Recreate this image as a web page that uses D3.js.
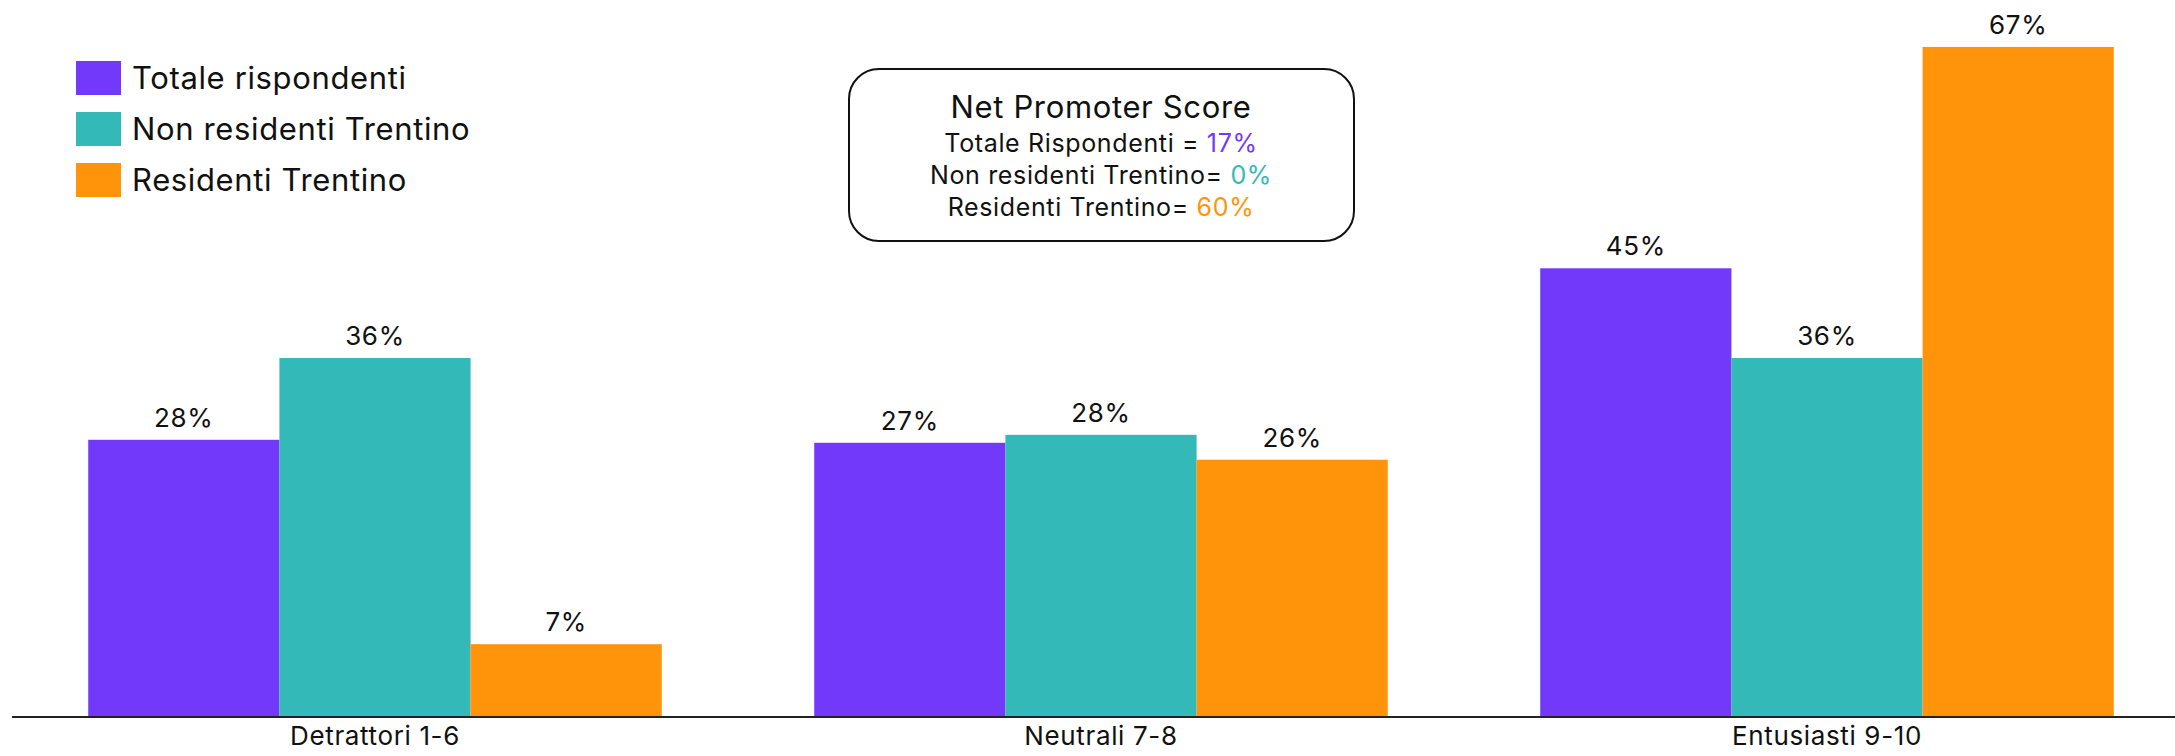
<!DOCTYPE html>
<html>
<head>
<meta charset="utf-8">
<script src="https://cdn.jsdelivr.net/npm/d3@7"></script>
<style>
  body { margin: 0; background: #fff; }
  svg { display: block; font-family: Inter, "Noto Sans", sans-serif; letter-spacing: 0.04em; }
</style>
</head>
<body>
<div id="chart"></div>
<script>
let width = 2175;
let height = 756;

// Data
const categories = ["Detrattori 1-6", "Neutrali 7-8", "Entusiasti 9-10"];
const seriesNames = ["Totale rispondenti", "Non residenti Trentino", "Residenti Trentino"];
const totale = [27.7, 27.4, 44.9];
const nonResidenti = [35.9, 28.2, 35.9];
const residenti = [7.2, 25.7, 67.1];
const seriesColors = ["#7239FB", "#34B9B9", "#FF940A"];

// NPS box
const npsTitle = "Net Promoter Score";
const npsLabels = ["Totale Rispondenti = ", "Non residenti Trentino= ", "Residenti Trentino= "];
const npsValues = ["17%", "0%", "60%"];

const values = [totale, nonResidenti, residenti];

let svg = d3.select("#chart").append("svg")
  .attr("width", width)
  .attr("height", height);

const baseline = 716;

// scales
var x0 = d3.scaleBand()
  .domain(categories)
  .range([12, 2190])
  .paddingInner(0.21)
  .paddingOuter(0.105);

var x1 = d3.scaleBand()
  .domain(seriesNames)
  .range([0, x0.bandwidth()]);

var y = d3.scaleLinear()
  .domain([0, 70])
  .range([baseline, baseline - 698]);

var color = d3.scaleOrdinal()
  .domain(seriesNames)
  .range(seriesColors);

// table for the bars
let rows = [];
categories.forEach(function (c, i) {
  seriesNames.forEach(function (s, j) {
    rows.push({ cat: c, series: s, value: values[j][i] });
  });
});

let bars = svg.append("g");

bars.selectAll("rect")
  .data(rows)
  .enter()
  .append("rect")
  .attr("x", d => x0(d.cat) + x1(d.series))
  .attr("y", d => y(d.value))
  .attr("width", x1.bandwidth())
  .attr("height", d => baseline - y(d.value))
  .attr("fill", d => color(d.series));

bars.selectAll("text")
  .data(rows)
  .enter()
  .append("text")
  .attr("x", d => x0(d.cat) + x1(d.series) + x1.bandwidth() / 2)
  .attr("y", d => y(d.value) - 13)
  .attr("text-anchor", "middle")
  .attr("font-size", 26)
  .attr("fill", "#111")
  .text(d => Math.round(d.value) + "%");

// x axis
let xAxis = svg.append("g")
  .attr("transform", "translate(0," + baseline + ")")
  .call(d3.axisBottom(x0).tickSize(0).tickPadding(11));

xAxis.select(".domain").remove();
xAxis.selectAll("text")
  .attr("font-size", 26)
  .attr("font-family", "Inter, sans-serif")
  .attr("fill", "#111");

svg.append("line")
  .attr("x1", 12)
  .attr("x2", width)
  .attr("y1", baseline + 1)
  .attr("y2", baseline + 1)
  .attr("stroke", "#222")
  .attr("stroke-width", 2);

// legend
let legend = svg.append("g")
  .selectAll("g")
  .data(seriesNames)
  .enter()
  .append("g")
  .attr("transform", (d, i) => "translate(76," + (61 + i * 51) + ")");

legend.append("rect")
  .attr("width", 45)
  .attr("height", 34)
  .attr("fill", d => color(d));

legend.append("text")
  .attr("x", 56)
  .attr("y", 17)
  .attr("dy", "0.36em")
  .attr("font-size", 31)
  .attr("fill", "#111")
  .text(d => d);

// NPS box
let box = svg.append("g");
box.append("rect")
  .attr("x", 849)
  .attr("y", 69)
  .attr("width", 505)
  .attr("height", 172)
  .attr("rx", 30)
  .attr("fill", "#fff")
  .attr("stroke", "#111")
  .attr("stroke-width", 2);

box.append("text")
  .attr("x", 1101)
  .attr("y", 118)
  .attr("text-anchor", "middle")
  .attr("font-size", 31)
  .attr("fill", "#111")
  .text(npsTitle);

npsLabels.forEach(function (lab, i) {
  let t = box.append("text")
    .attr("x", 1101)
    .attr("y", 152 + i * 32)
    .attr("text-anchor", "middle")
    .attr("font-size", 25)
    .attr("fill", "#111");
  t.append("tspan").text(lab);
  t.append("tspan").attr("fill", seriesColors[i]).text(npsValues[i]);
});
</script>
</body>
</html>
